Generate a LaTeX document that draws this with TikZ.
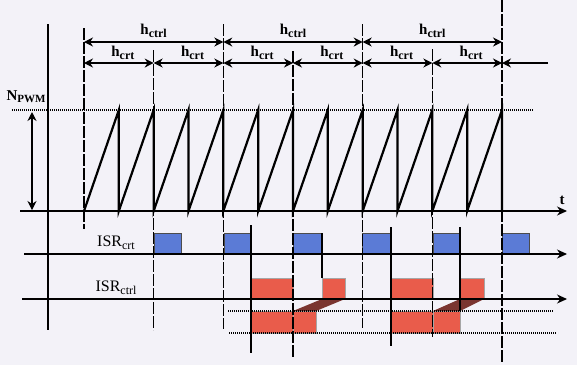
\documentclass[tikz,border=0pt]{standalone}
\usepackage{fontspec}
\setmainfont{Liberation Serif}
\usetikzlibrary{arrows.meta}

\definecolor{bgcol}{HTML}{F3F2F8}
\definecolor{isrblue}{HTML}{5B7BD6}
\definecolor{isrred}{HTML}{E95C4B}
\definecolor{isrbrown}{HTML}{7A3530}

\newcommand\lsub[1]{\raisebox{-0.45ex}{\fontsize{12}{12}\selectfont #1}}

\tikzset{
  dimarrow/.style={{Stealth[length=9pt,width=9pt]}-{Stealth[length=9pt,width=9pt]},line width=1.1pt},
  axisarrow/.style={-{Stealth[length=10pt,width=9pt]},line width=1.1pt},
  markline/.style={line width=1.1pt,dash pattern=on 12pt off 2pt},
  thinline/.style={line width=1.1pt},
  dotline/.style={line width=1.4pt,dash pattern=on 1pt off 1pt},
  saw/.style={line width=2.2pt,line join=miter},
  bluebox/.style={fill=isrblue,draw=gray!60!black,line width=1pt},
  redbox/.style={fill=isrred,draw=gray!70,line width=1pt},
  dimlabel/.style={font=\fontsize{15}{15}\selectfont\bfseries,inner sep=1pt},
  isrlabel/.style={font=\fontsize{16}{16}\selectfont,inner sep=1pt}
}

\begin{document}
\begin{tikzpicture}[x=1pt,y=-1pt]

  \fill[bgcol] (0,0) rectangle (577,365);
  \useasboundingbox (0,0) rectangle (577,365);

  % period ticks
  \foreach \x [count=\i from 0] in {84,153.7,223.3,293,362.7,432.3,502} {
    \coordinate (a\i) at (\x,42);
    \coordinate (b\i) at (\x,63);
  }
  \coordinate (bend) at (548,63);

  % boxes
  \foreach \x/\w in {154/27, 224/27, 293/29, 362/29, 433/27, 502/27}
    \draw[bluebox] (\x,233) rectangle ++(\w,20);
  \foreach \x/\w in {251/42, 322/23, 391/42, 460/24}
    \draw[redbox] (\x,278) rectangle ++(\w,20);
  \foreach \x/\w in {251/42, 293/23, 391/42, 433/27}
    \draw[redbox] (\x,311) rectangle ++(\w,22);
  \fill[isrbrown] (293,311) -- (316,311) -- (345,299) -- (322,299) -- cycle;
  \fill[isrbrown] (433,311) -- (460,311) -- (484,299) -- (460,299) -- cycle;

  % markers
  \draw[thinline] (48,24) -- (48,330);
  \foreach \x/\a/\b in {84/28/229, 153.7/50/330, 223.3/24/329, 293/51/357,
                        362.7/24/328, 432.3/49/337, 502/0/362}
    \draw[markline] (\x,\a) -- (\x,\b);
  \foreach \x/\a/\b in {251/225/353, 322/233/278, 391/227/346, 460/227/311}
    \draw[thinline] (\x,\a) -- (\x,\b);
  \draw[dotline] (12,110) -- (533,110);
  \draw[dotline] (228,311) -- (554,311);
  \draw[dotline] (229,333) -- (556,333);

  % sawtooth
  \draw[saw] (84,211) foreach \k in {1,...,12} { -- ({84+\k*34.833},110) -- ++(0,101) };

  % axes
  \coordinate (t0) at (20,211);  \coordinate (t1) at (567,211);
  \coordinate (c0) at (24,254);  \coordinate (c1) at (567,254);
  \coordinate (d0) at (22,299);  \coordinate (d1) at (567,299);
  \draw[axisarrow] (t0) -- (t1);
  \draw[axisarrow] (c0) -- (c1);
  \draw[axisarrow] (d0) -- (d1);
  \node[dimlabel] (tlab) at (562,200) {t};

  % dimension arrows
  \coordinate (n0) at (32,112); \coordinate (n1) at (32,210);
  \draw[dimarrow] (n0) -- (n1);
  \node[dimlabel] (npwm) at (26,97) {N{\fontsize{11}{11}\selectfont\raisebox{-0.4ex}{PWM}}};
  \foreach \i/\j in {0/2, 2/4, 4/6}
    \draw[dimarrow] (a\i) -- (a\j) node[dimlabel,midway,above=3pt] {h\lsub{ctrl}};
  \foreach \i/\j in {0/1, 1/2, 2/3, 3/4, 4/5, 5/6}
    \draw[dimarrow] (b\i) -- (b\j) node[dimlabel,midway,above=2pt,xshift=4pt] {h\lsub{crt}};
  \draw[-{Stealth[length=9pt,width=9pt]},line width=1.1pt] (bend) -- (b6);

  \node[isrlabel] (isrcrt) at (116,243) {ISR\lsub{crt}};
  \node[isrlabel] (isrctrl) at (116,288) {ISR\lsub{ctrl}};

\end{tikzpicture}
\end{document}
